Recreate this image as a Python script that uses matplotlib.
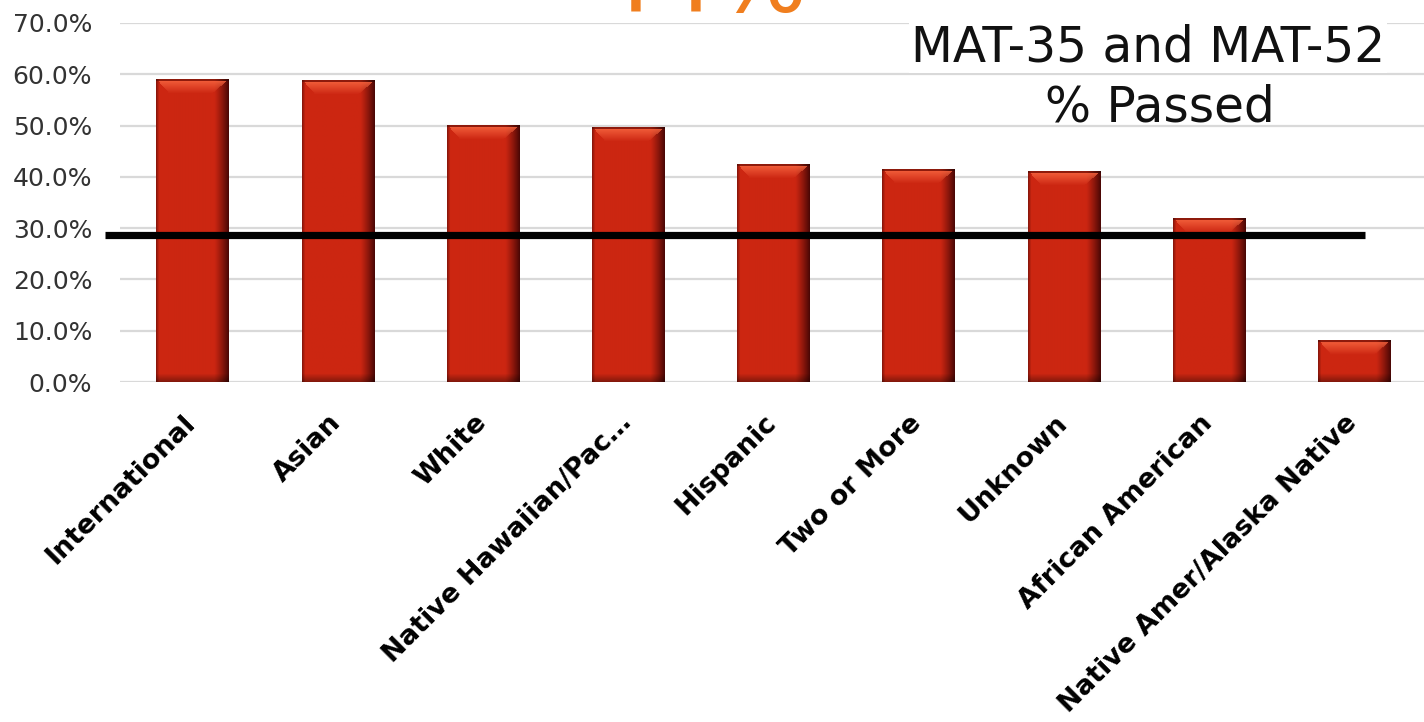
import numpy as np
import matplotlib
matplotlib.use("Agg")
import matplotlib.pyplot as plt
from matplotlib.transforms import ScaledTranslation

# ---- data ----
categories = ["International", "Asian", "White", "Native Hawaiian/Pac\u2026",
              "Hispanic", "Two or More", "Unknown", "African American",
              "Native Amer/Alaska Native"]
pct_passed = [0.590, 0.587, 0.501, 0.497, 0.425, 0.415, 0.411, 0.318, 0.080]
threshold = 0.2865
y_ticks = [0.0, 0.1, 0.2, 0.3, 0.4, 0.5, 0.6, 0.7]
title_line1 = "MAT-35 and MAT-52"
title_line2 = "% Passed"
overall_text = "44%"

W, H, DPI = 14.24, 7.22, 100
fig = plt.figure(figsize=(W, H), dpi=DPI)
ax = fig.add_axes([120 / 1424, 1 - 382 / 722, 1307 / 1424, 359 / 722])

x = np.arange(len(categories))
bar_w = 0.5
bars = ax.bar(x, pct_passed, width=bar_w, color="#C92411", zorder=2)

ax.set_xlim(-0.5, len(categories) - 0.5)
ax.set_ylim(0, 0.7)

# beveled 3D-looking shading for each bar
body = np.array([0.80, 0.15, 0.07])
light = np.array([0.97, 0.40, 0.25])
dark_edge = np.array([0.30, 0.03, 0.02])
px_per_unit = 359 / 0.7
for b in bars:
    h = b.get_height()
    hp = max(int(round(h * px_per_unit)), 4)
    wp = 72
    img = np.tile(body, (hp, wp, 1)).astype(float)
    u = np.linspace(0, 1, wp)
    # right-side darkening
    rfac = np.clip((u - 0.80) / 0.20, 0, 1) ** 1.2
    img = img * (1 - rfac[None, :, None]) + dark_edge * rfac[None, :, None]
    # left thin darker line
    lfac = np.clip(1 - u / 0.04, 0, 1) * 0.5
    img = img * (1 - lfac[None, :, None]) + dark_edge * lfac[None, :, None]
    # top bevel
    bev = min(14, hp // 2)
    for r in range(2, bev):
        t = 1 - (r - 2) / (bev - 2)
        inset = (r - 2) / wp
        mask = (u > 0.03 + inset * 0.9) & (u < 0.97 - inset * 1.2)
        f = 0.8 * t
        row = img[r].copy()
        row[mask] = row[mask] * (1 - f) + light * f
        img[r] = row
    img[0:2] = img[0:2] * 0.7
    # bottom darkening
    bb = min(8, hp // 3)
    for r in range(bb):
        f = 0.35 * (1 - r / bb)
        img[hp - 1 - r] = img[hp - 1 - r] * (1 - f)
    ax.imshow(img, extent=[b.get_x(), b.get_x() + b.get_width(), 0, h],
              aspect="auto", origin="upper", zorder=2.5, interpolation="bilinear")

ax.set_xlim(-0.5, len(categories) - 0.5)
ax.set_ylim(0, 0.7)

# threshold line (extends slightly past the axes on the left)
ax.plot([-0.603, 8.074], [threshold, threshold], color="black", lw=5.2,
        solid_capstyle="butt", zorder=4, clip_on=False)

# grid & spines
ax.set_yticks(y_ticks)
ax.set_yticklabels([f"{v*100:.1f}%" for v in y_ticks], fontsize=18, color="#333333")
ax.yaxis.grid(True, color="#D9D9D9", lw=1.6, zorder=0)
ax.set_axisbelow(True)
for s in ax.spines.values():
    s.set_visible(False)
ax.tick_params(axis="y", length=0, pad=20)

ax.set_xticks(x)
ax.set_xticklabels(categories, rotation=45, ha="right", va="top",
                   rotation_mode="anchor", fontsize=19.5, fontweight="bold",
                   color="black")
ax.tick_params(axis="x", length=0, pad=20)
for lab in ax.get_xticklabels():
    lab.set_transform(lab.get_transform() + ScaledTranslation(-10 / DPI, 0, fig.dpi_scale_trans))

# titles
fig.text(1148 / 1424, 1 - 62 / 722, title_line1, ha="center", va="baseline",
         fontsize=35, color="#111111",
         bbox=dict(facecolor="white", edgecolor="none", pad=1))
fig.text(1160 / 1424, 1 - 122 / 722, title_line2, ha="center", va="baseline",
         fontsize=35, color="#111111")

# clipped orange overall figure at the top
fig.text(594 / 1424, 1 - 12 / 722, overall_text, ha="left", va="baseline",
         fontsize=69, color="#F07E1E")

fig.savefig("out.png", dpi=DPI, facecolor="white")
